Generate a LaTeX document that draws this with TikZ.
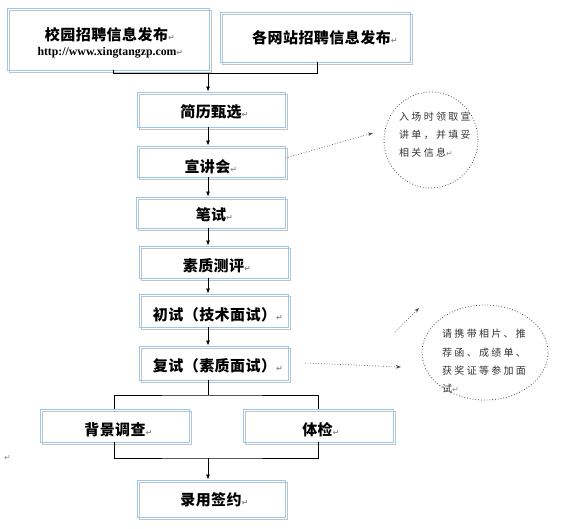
\documentclass[tikz,border=0pt]{standalone}
\usepackage{fontspec}
\usetikzlibrary{arrows.meta,shapes.geometric}
\setmainfont{Liberation Serif}
\newfontfamily\cjk{Noto Sans CJK SC}[LetterSpace=3]
\newfontfamily\cjksm{Noto Sans CJK SC}[LetterSpace=23]
\newfontfamily\dvs{DejaVu Sans}
\definecolor{boxblue}{RGB}{150,200,245}
\definecolor{boxgray}{RGB}{195,195,195}
\newcommand\pmk{{\dvs\fontsize{8}{9}\selectfont\color{black!45}↵}}
\tikzset{
  box/.style={draw=boxblue, line width=0.9pt, inner sep=0pt,
    preaction={draw=boxgray, line width=1pt, transform canvas={shift={(2pt,-2.5pt)}}}},
  boxtxt/.style={font={\cjk\bfseries\fontsize{15}{18}\selectfont}, inner sep=0pt},
  urltxt/.style={font={\bfseries\fontsize{11.8}{14}\selectfont}, inner sep=0pt},
  smtxt/.style={font={\cjksm\fontsize{10}{12}\selectfont}, text=black!80, inner sep=0pt, anchor=base west},
  conn/.style={draw=black, line width=0.8pt},
  arr/.style={conn, -{Latex[length=5pt,width=4pt]}},
  ell/.style={ellipse, draw=black!70, dotted, line width=0.8pt, inner sep=0pt},
  dotarr/.style={draw=black!70, dotted, line width=0.7pt, -{Stealth[length=5pt,width=3.5pt]}}
}
\begin{document}
\begin{tikzpicture}[x=1pt,y=-1pt]
\useasboundingbox (0,0) rectangle (568,528);
% boxes
\node[box, minimum width=202pt, minimum height=62pt] (b1) at (108,39) {};
\node[box, minimum width=190pt, minimum height=50pt] (b2) at (315,37) {};
\node[box, minimum width=148pt, minimum height=35pt] (b3) at (211,109.5) {};
\node[box, minimum width=148pt, minimum height=31pt] (b4) at (211,161.5) {};
\node[box, minimum width=149pt, minimum height=31pt] (b5) at (210.5,212.5) {};
\node[box, minimum width=149pt, minimum height=32pt] (b6) at (213.5,262) {};
\node[box, minimum width=149pt, minimum height=33pt] (b7) at (213.5,310.5) {};
\node[box, minimum width=149pt, minimum height=34pt] (b8) at (213.5,363) {};
\node[box, minimum width=149pt, minimum height=33pt] (b9) at (114.5,425.5) {};
\node[box, minimum width=150pt, minimum height=33pt] (b10) at (318,425.5) {};
\node[box, minimum width=148pt, minimum height=37pt] (b11) at (211,498.5) {};
% texts
\node[boxtxt] (t1) at (106.5,35) {校园招聘信息发布\rlap{\pmk}};
\node[urltxt] (t1u) at (107,53) {http://www.xingtangzp.com\rlap{\pmk}};
\node[boxtxt] (t2) at (321.5,38) {各网站招聘信息发布\rlap{\pmk}};
\node[boxtxt] (t3) at (211,112) {简历甄选\rlap{\pmk}};
\node[boxtxt] (t4) at (207.5,166.5) {宣讲会\rlap{\pmk}};
\node[boxtxt] (t5) at (211,215) {笔试\rlap{\pmk}};
\node[boxtxt] (t6) at (213.5,266) {素质测评\rlap{\pmk}};
\node[boxtxt] (t7) at (214.5,315) {初试（技术面试）\rlap{\pmk}};
\node[boxtxt] (t8) at (214.5,365.5) {复试（素质面试）\rlap{\pmk}};
\node[boxtxt] (t9) at (115,430) {背景调查\rlap{\pmk}};
\node[boxtxt] (t10) at (317.5,430) {体检\rlap{\pmk}};
\node[boxtxt] (t11) at (211,500) {录用签约\rlap{\pmk}};
\node[inner sep=0pt] (pm0) at (7.5,458) {\pmk};
% connectors
\coordinate (tr) at (208,0);
\coordinate (j1) at (208,73);
\draw[conn] ([xshift=5pt]b1.south) |- (j1);
\draw[conn] ([xshift=2pt]b2.south) |- (j1);
\draw[arr] (j1) -- (j1 |- b3.north);
\draw[arr] (b3.south -| tr) -- (b4.north -| tr);
\draw[arr] (b4.south -| tr) -- (b5.north -| tr);
\draw[arr] (b5.south -| tr) -- (b6.north -| tr);
\draw[arr] (b6.south -| tr) -- (b7.north -| tr);
\draw[arr] (b7.south -| tr) -- (b8.north -| tr);
\coordinate (s1) at (208,395);
\draw[conn] (b8.south -| tr) -- (s1);
\draw[conn] (b9.north) |- (s1) -| (b10.north);
\coordinate (m1) at (208,458);
\draw[conn] (b9.south) |- (m1) -| (b10.south);
\draw[arr] (m1) -- (m1 |- b11.north);
% ellipses
\node[ell, minimum width=94pt, minimum height=96pt] (e1) at (431,140) {};
\node[ell, minimum width=126pt, minimum height=95pt] (e2) at (485,352.5) {};
\node[smtxt] (e1a) at (399,120) {入场时领取宣};
\node[smtxt] (e1b) at (399,138) {讲单，并填妥};
\node[smtxt] (e1c) at (399,156) {相关信息\pmk};
\node[smtxt] (e2a) at (442,337) {请携带相片、推};
\node[smtxt] (e2b) at (442,356) {荐函、成绩单、};
\node[smtxt] (e2c) at (442,374) {获奖证等参加面};
\node[smtxt] (e2d) at (442,392) {试\pmk};
% dotted arrows
\coordinate (c1) at (373,133);
\draw[dotarr] ([yshift=3.5pt]b4.east) -- (c1);
\coordinate (c2s) at (395,332);
\coordinate (c2e) at (419,308);
\draw[dotarr] (c2s) -- (c2e);
\coordinate (c3s) at (305,363);
\coordinate (c3e) at (401,367);
\draw[dotarr] (c3s) -- (c3e);
\end{tikzpicture}
\end{document}
